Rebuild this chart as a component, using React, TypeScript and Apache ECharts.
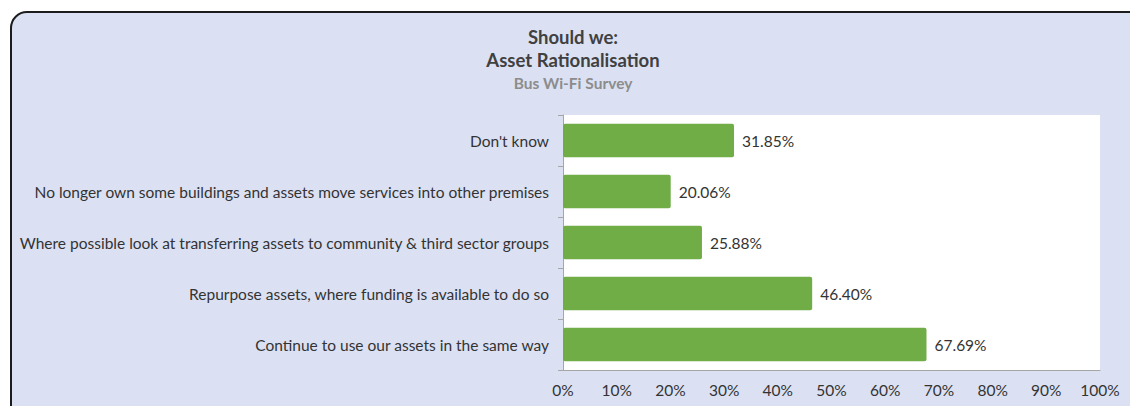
import React, { useEffect, useRef } from "react";
import * as echarts from "echarts";

const categories = [
  "Don't know",
  "No longer own some buildings and assets move services into other premises",
  "Where possible look at transferring assets to community & third sector groups",
  "Repurpose assets, where funding is available to do so",
  "Continue to use our assets in the same way",
];
const values = [31.85, 20.06, 25.88, 46.4, 67.69];
const titleLines = ["Should we:", "Asset Rationalisation"];
const subtitle = "Bus Wi-Fi Survey";

const FONT = "Lato";

export default function App() {
  const ref = useRef<HTMLDivElement>(null);
  useEffect(() => {
    if (!ref.current) return;
    const chart = echarts.init(ref.current, null, { renderer: "svg" });
    chart.setOption({
      animation: false,
      backgroundColor: "#ffffff",
      textStyle: { fontFamily: FONT },
      graphic: [
        {
          type: "rect",
          z: -10,
          shape: { x: 11, y: 12, width: 1140, height: 420, r: 16 },
          style: { fill: "#dbe1f3", stroke: "#1c1c1c", lineWidth: 2 },
        },
        {
          type: "text",
          x: 573,
          y: 25,
          style: {
            text: titleLines.join("\n"),
            font: `bold 18.5px "${FONT}"`,
            fill: "#404040",
            lineHeight: 23,
            align: "center",
          },
        },
        {
          type: "text",
          x: 573,
          y: 75,
          style: {
            text: subtitle,
            font: `bold 15.5px "${FONT}"`,
            fill: "#8c8c8c",
            align: "center",
          },
        },
      ],
      grid: {
        left: 563,
        right: 30,
        top: 115,
        bottom: 36,
        show: true,
        backgroundColor: "#ffffff",
        borderWidth: 0,
      },
      xAxis: {
        type: "value",
        min: 0,
        max: 100,
        interval: 10,
        axisLine: { show: true, lineStyle: { color: "#a6a6a6" } },
        axisTick: { show: false },
        splitLine: { show: false },
        axisLabel: {
          formatter: "{value}%",
          color: "#333333",
          fontSize: 15.5,
          fontFamily: FONT,
          margin: 12,
        },
      },
      yAxis: {
        type: "category",
        data: categories,
        inverse: true,
        axisLine: { show: true, lineStyle: { color: "#a6a6a6" } },
        axisTick: { show: true, length: 5, lineStyle: { color: "#a6a6a6" } },
        axisLabel: {
          color: "#333333",
          fontSize: 15.5,
          fontFamily: FONT,
          margin: 14,
        },
      },
      series: [
        {
          type: "bar",
          data: values,
          barCategoryGap: "34%",
          itemStyle: { color: "#70ad47", borderRadius: 2 },
          label: {
            show: true,
            position: "right",
            distance: 8,
            formatter: (p: any) => p.value.toFixed(2) + "%",
            color: "#333333",
            fontSize: 15.5,
            fontFamily: FONT,
          },
        },
      ],
    });
    return () => chart.dispose();
  }, []);
  return (
    <div
      ref={ref}
      style={{ position: "fixed", left: 0, top: 0, width: 1130, height: 406 }}
    />
  );
}
